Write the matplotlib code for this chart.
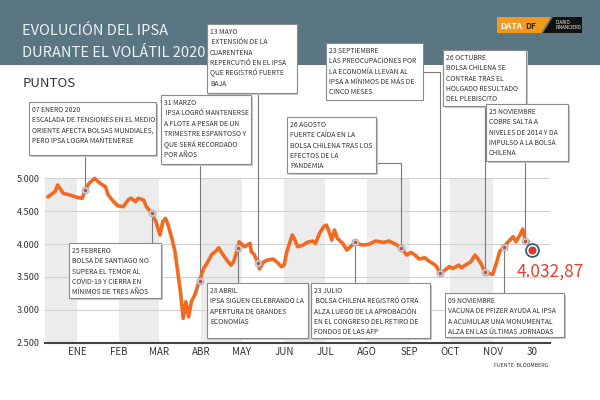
import matplotlib
matplotlib.use("Agg")
from matplotlib import pyplot as plt
from matplotlib.patches import Rectangle, Polygon
from matplotlib.ticker import FuncFormatter
import pandas as pd

plt.rcParams["font.family"] = ["Noto Sans CJK JP", "DejaVu Sans"]

# IPSA closes
dates = [
    "2019-12-11", "2019-12-16", "2019-12-18", "2019-12-22", "2019-12-27",
    "2020-01-01", "2020-01-05", "2020-01-07", "2020-01-10", "2020-01-14",
    "2020-01-18", "2020-01-22", "2020-01-24", "2020-01-28", "2020-01-31",
    "2020-02-04", "2020-02-08", "2020-02-10", "2020-02-13", "2020-02-15",
    "2020-02-19", "2020-02-21", "2020-02-25", "2020-02-28", "2020-03-02",
    "2020-03-04", "2020-03-06", "2020-03-08", "2020-03-11", "2020-03-13",
    "2020-03-15", "2020-03-17", "2020-03-19", "2020-03-21", "2020-03-23",
    "2020-03-25", "2020-03-28", "2020-03-29", "2020-03-31", "2020-04-03",
    "2020-04-05", "2020-04-09", "2020-04-12", "2020-04-14", "2020-04-17",
    "2020-04-20", "2020-04-23", "2020-04-25", "2020-04-28", "2020-04-29",
    "2020-05-03", "2020-05-07", "2020-05-08", "2020-05-10", "2020-05-13",
    "2020-05-14", "2020-05-17", "2020-05-20", "2020-05-24", "2020-05-27",
    "2020-05-30", "2020-06-01", "2020-06-03", "2020-06-07", "2020-06-09",
    "2020-06-11", "2020-06-15", "2020-06-18", "2020-06-22", "2020-06-24",
    "2020-06-27", "2020-06-30", "2020-07-02", "2020-07-04", "2020-07-06",
    "2020-07-08", "2020-07-10", "2020-07-14", "2020-07-17", "2020-07-21",
    "2020-07-23", "2020-07-28", "2020-08-02", "2020-08-07", "2020-08-13",
    "2020-08-17", "2020-08-22", "2020-08-26", "2020-08-30", "2020-09-02",
    "2020-09-05", "2020-09-08", "2020-09-12", "2020-09-16", "2020-09-18",
    "2020-09-21", "2020-09-23", "2020-09-26", "2020-09-30", "2020-10-03",
    "2020-10-07", "2020-10-09", "2020-10-12", "2020-10-16", "2020-10-19",
    "2020-10-21", "2020-10-24", "2020-10-26", "2020-10-29", "2020-11-01",
    "2020-11-04", "2020-11-06", "2020-11-09", "2020-11-12", "2020-11-16",
    "2020-11-18", "2020-11-21", "2020-11-23", "2020-11-25", "2020-11-27",
]
values = [
    4720, 4796, 4898, 4772, 4746,
    4711, 4696, 4822, 4924, 5000,
    4924, 4872, 4746, 4644, 4583,
    4568, 4680, 4696, 4644, 4696,
    4670, 4568, 4467, 4340, 4137,
    4340, 4391, 4289, 4061, 3883,
    3578, 3274, 2869, 3122, 2893,
    3122, 3250, 3326, 3440, 3630,
    3690, 3843, 3893, 3944, 3843,
    3757, 3680, 3731, 3935, 4035,
    3959, 4010, 3883, 3843, 3706,
    3620, 3731, 3757, 3772, 3721,
    3655, 3680, 3883, 4137, 4061,
    3959, 3985, 4026, 4046, 4010,
    4163, 4264, 4289, 4188, 4061,
    4213, 4087, 4010, 3909, 3985,
    4026, 3985, 3995, 4046, 4026,
    4046, 3995, 3935, 3833, 3873,
    3833, 3772, 3792, 3731, 3706,
    3655, 3554, 3589, 3655, 3630,
    3680, 3640, 3680, 3731, 3833,
    3782, 3680, 3578, 3554, 3539,
    3731, 3883, 3959, 4026, 4112,
    4035, 4137, 4228, 4050, 4035,
]

end_date = "2020-11-30"
end_value = 3910
end_label = "4.032,87"

note_dates = [
    "2020-01-07", "2020-03-31", "2020-05-13", "2020-02-25", "2020-04-28",
    "2020-08-26", "2020-09-23", "2020-10-26", "2020-11-25", "2020-07-23",
    "2020-11-09",
]
note_texts = [
    "07 ENERO 2020\nESCALADA DE TENSIONES EN EL MEDIO\nORIENTE AFECTA BOLSAS MUNDIALES,\nPERO IPSA LOGRA MANTENERSE",
    "31 MARZO\n IPSA LOGRÓ MANTENERSE\nA FLOTE A PESAR DE UN\nTRIMESTRE ESPANTOSO Y\nQUE SERÁ RECORDADO\nPOR AÑOS",
    "13 MAYO\n EXTENSIÓN DE LA\nCUARENTENA\nREPERCUTIÓ EN EL IPSA\nQUE REGISTRÓ FUERTE\nBAJA",
    "25 FEBRERO\nBOLSA DE SANTIAGO NO\nSUPERA EL TEMOR AL\nCOVID-19 Y CIERRA EN\nMÍNIMOS DE TRES AÑOS",
    "28 ABRIL\nIPSA SIGUEN CELEBRANDO LA\nAPERTURA DE GRANDES\nECONOMÍAS",
    "26 AGOSTO\nFUERTE CAÍDA EN LA\nBOLSA CHILENA TRAS LOS\nEFECTOS DE LA\nPANDEMIA",
    "23 SEPTIEMBRE\nLAS PREOCUPACIONES POR\nLA ECONOMÍA LLEVAN AL\nIPSA A MÍNIMOS DE MÁS DE\nCINCO MESES",
    "26 OCTUBRE\nBOLSA CHILENA SE\nCONTRAE TRAS EL\nHOLGADO RESULTADO\nDEL PLEBISCITO",
    "25 NOVIEMBRE\nCOBRE SALTA A\nNIVELES DE 2014 Y DA\nIMPULSO A LA BOLSA\nCHILENA",
    "23 JULIO\n BOLSA CHILENA REGISTRÓ OTRA\nALZA LUEGO DE LA APROBACIÓN\nEN EL CONGRESO DEL RETIRO DE\nFONDOS DE LAS AFP",
    "09 NOVIEMBRE\nVACUNA DE PFIZER AYUDA AL IPSA\nA ACUMULAR UNA MONUMENTAL\nALZA EN LAS ÚLTIMAS JORNADAS",
]
# box in pixels (left, top, right, bottom), where the leader leaves it, elbow height
note_boxes = [
    ((29, 102, 156, 155), "bottom", None),
    ((161, 95, 251, 164), "bottom", None),
    ((207, 24, 297, 93), "bottom", None),
    ((69, 243, 161, 298), "top", None),
    ((207, 283, 308, 338), "top", None),
    ((287, 117, 376, 173), "right", 163),
    ((326, 43, 423, 100), "right", 72),
    ((443, 50, 526, 106), "bottom", None),
    ((486, 104, 568, 161), "bottom", None),
    ((311, 283, 430, 338), "top", None),
    ((445, 293, 564, 337), "top", None),
]

tick_dates = ["2020-01-01", "2020-02-01", "2020-03-01", "2020-04-01", "2020-05-01",
              "2020-06-01", "2020-07-01", "2020-08-01", "2020-09-01", "2020-10-01",
              "2020-11-01", "2020-11-30"]
tick_labels = ["ENE", "FEB", "MAR", "ABR", "MAY", "JUN", "JUL", "AGO", "SEP", "OCT", "NOV", "30"]
y_ticks = [2500, 3000, 3500, 4000, 4500, 5000]
shaded = [("2019-12-01", "2020-01-01"), ("2020-02-01", "2020-03-01"), ("2020-04-01", "2020-05-01"),
          ("2020-06-01", "2020-07-01"), ("2020-08-01", "2020-09-01"), ("2020-10-01", "2020-11-01")]

W, H = 600, 400
ORANGE = "#f26a21"
TEXT = "#333333"


def fx(x):
    return x / W


def fy(y):
    return 1 - y / H


fig = plt.figure(figsize=(6, 4), dpi=100)
fig.patch.set_facecolor("white")

# header band
fig.add_artist(Rectangle((0, fy(65)), 1, 65 / H, transform=fig.transFigure,
                         facecolor="#5b7683", edgecolor="none", zorder=0))
fig.text(fx(22), fy(35), "EVOLUCIÓN DEL IPSA", fontsize=10.5, color="#eef3f5", va="baseline")
fig.text(fx(22), fy(57), "DURANTE EL VOLÁTIL 2020", fontsize=10.5, color="#eef3f5", va="baseline")
fig.text(fx(23), fy(87), "PUNTOS", fontsize=9.5, color=TEXT, va="baseline")

# logo
fig.add_artist(Polygon([(fx(497), fy(17)), (fx(551), fy(17)), (fx(541), fy(33)), (fx(497), fy(33))],
                       closed=True, transform=fig.transFigure, facecolor="#f39a1e", edgecolor="none"))
fig.add_artist(Polygon([(fx(553), fy(17)), (fx(582), fy(17)), (fx(582), fy(33)), (fx(543), fy(33))],
                       closed=True, transform=fig.transFigure, facecolor="#111111", edgecolor="none"))
fig.text(fx(500), fy(29), "DATA", fontsize=6, color="white", weight="bold", va="baseline")
fig.text(fx(525), fy(29), "DF", fontsize=6, color="#3a2410", weight="bold", va="baseline")
fig.text(fx(556), fy(24), "DIARIO", fontsize=3.2, color="white", va="baseline")
fig.text(fx(556), fy(29), "FINANCIERO", fontsize=3.2, color="white", va="baseline")

ax = fig.add_axes([fx(45), fy(342.7), 505 / W, (342.7 - 178.3) / H])
x = pd.to_datetime(dates)
ax.set_xlim(pd.Timestamp("2019-12-08 16:00"), pd.Timestamp("2020-12-13"))
ax.set_ylim(2500, 5000)

for a, b in shaded:
    ax.axvspan(pd.Timestamp(a), pd.Timestamp(b), color="#ececec", lw=0, zorder=0)
for v in y_ticks[1:]:
    ax.axhline(v, color="#d2d2d2", lw=0.8, zorder=1)

ax.plot(x, values, color=ORANGE, lw=2.6, solid_joinstyle="round", zorder=3, clip_on=False)

series = dict(zip(dates, values))
note_values = [series[d] for d in note_dates]
ax.plot(pd.to_datetime(note_dates), note_values, "o", ms=5, mfc="#d6d6d6", mec="#a8a8a8",
        mew=0.6, zorder=5)
ax.plot(pd.to_datetime(note_dates), note_values, "o", ms=1.6, color="#c0504d", zorder=6)

end_x = pd.Timestamp(end_date)
ax.plot([end_x], [end_value], "o", ms=9.5, color="#2b5c69", zorder=6, clip_on=False)
ax.plot([end_x], [end_value], "o", ms=7, color="white", zorder=7, clip_on=False)
ax.plot([end_x], [end_value], "o", ms=4.8, color="#e3342f", zorder=8, clip_on=False)
fig.text(fx(517), fy(277), end_label, fontsize=12.5, color="#e0432d", va="baseline")

for s in ["top", "right", "left"]:
    ax.spines[s].set_visible(False)
ax.spines["bottom"].set_color("#444444")
ax.spines["bottom"].set_linewidth(1.5)
ax.set_yticks(y_ticks)
ax.yaxis.set_major_formatter(FuncFormatter(lambda v, p: f"{int(v):,}".replace(",", ".")))
ax.set_xticks(pd.to_datetime(tick_dates))
ax.set_xticklabels(tick_labels)
ax.tick_params(axis="y", length=0, pad=4, labelsize=6.5, labelcolor=TEXT)
ax.tick_params(axis="x", length=0, pad=3, labelsize=7, labelcolor=TEXT)
ax.set_facecolor("white")

fig.text(fx(548), fy(367), "FUENTE: BLOOMBERG", fontsize=3.8, color=TEXT, ha="right", va="baseline")

# annotation boxes and leaders
to_fig = ax.transData + fig.transFigure.inverted()
for d, v, txt, (box, side, elbow) in zip(note_dates, note_values, note_texts, note_boxes):
    l, t, r, b = box
    mx, my = to_fig.transform((matplotlib.dates.date2num(pd.Timestamp(d)), v))
    if side == "bottom":
        xs, ys = [mx, mx], [fy(b), my]
    elif side == "top":
        xs, ys = [mx, mx], [fy(t), my]
    else:
        xs, ys = [fx(r), mx, mx], [fy(elbow), fy(elbow), my]
    ax.plot(xs, ys, color="#7a7a7a", lw=0.8, transform=fig.transFigure, clip_on=False, zorder=2)

    fig.add_artist(Rectangle((fx(l + 1.5), fy(b + 1.5)), (r - l) / W, (b - t) / H,
                             transform=fig.transFigure, facecolor="#c8c8c8", edgecolor="none", zorder=3))
    fig.add_artist(Rectangle((fx(l), fy(b)), (r - l) / W, (b - t) / H, transform=fig.transFigure,
                             facecolor="white", edgecolor="#8a8a8a", lw=0.8, zorder=4))
    fig.text(fx(l + 3), fy(t + 4), txt, fontsize=4.9, color=TEXT, ha="left", va="top",
             linespacing=1.38, zorder=5)

fig.savefig("out.png", dpi=100)
